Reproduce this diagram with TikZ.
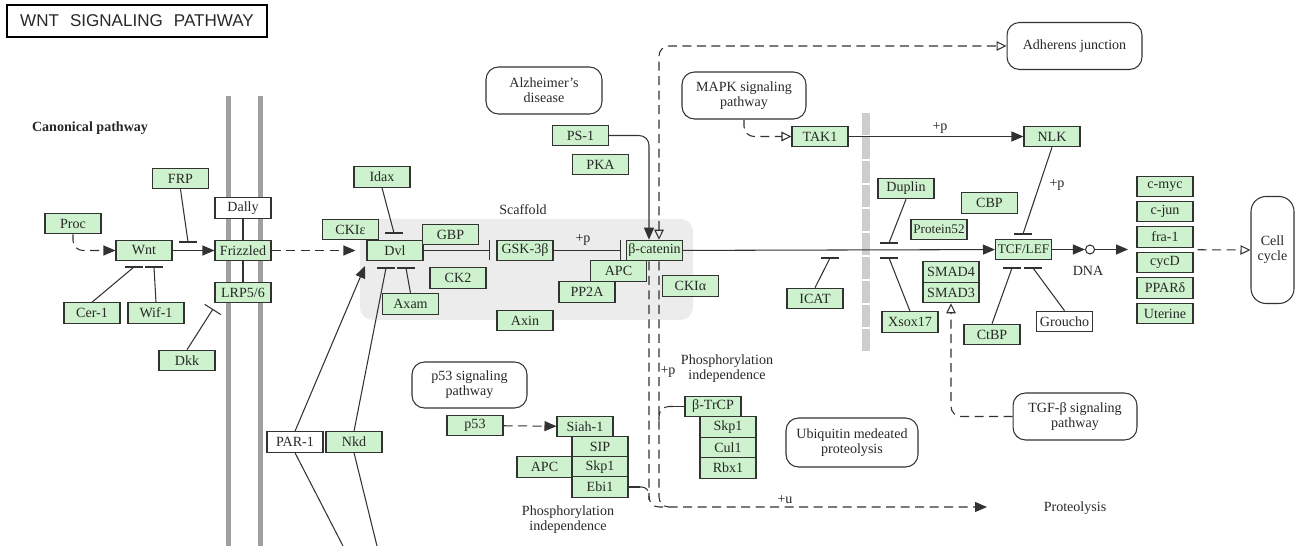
\documentclass[tikz,border=0pt]{standalone}
\usepackage{fontspec}
\setmainfont{Liberation Serif}
\newfontfamily\titlefont{Liberation Sans}
\usetikzlibrary{arrows.meta,calc}
\definecolor{kgreen}{RGB}{205,242,205}
\definecolor{kline}{RGB}{50,50,50}
\definecolor{ktext}{RGB}{40,40,40}
\definecolor{kmem}{RGB}{160,160,160}
\definecolor{kscaf}{RGB}{236,236,236}
\definecolor{kbarc}{RGB}{205,205,205}
\tikzset{
  kA/.tip={Triangle[length=0.24cm,width=0.2cm]},
  kO/.tip={Triangle[open,length=0.2cm,width=0.19cm]}
}
\newcommand\kbar[1]{\draw[lnk] ($(#1)+(-9,0)$) -- ($(#1)+(9,0)$);}
\begin{document}
\begin{tikzpicture}[x=0.02cm,y=-0.02cm,
  font=\fontsize{8}{8}\selectfont, text=ktext,
  gene/.style={draw=kline, line width=0.6pt, fill=kgreen, minimum width=1.12cm, minimum height=0.41cm, inner sep=0pt},
  wgene/.style={gene, fill=white},
  mapbox/.style={draw=kline, line width=0.6pt, rounded corners=0.25cm, align=center, inner sep=0pt, font=\fontsize{8}{8.5}\selectfont},
  lnk/.style={draw=kline, line width=0.6pt},
  act/.style={lnk, -kA},
  dsh/.style={lnk, dash pattern=on 0.18cm off 0.11cm},
  lbl/.style={inner sep=0pt, align=center, font=\fontsize{8}{8.5}\selectfont}
]
\useasboundingbox (0,0) rectangle (1297,546);
% backgrounds
\fill[kscaf, rounded corners=0.25cm] (360,219) rectangle (693,320);
\draw[kmem, line width=0.1cm] (228,96) -- (228,546);
\draw[kmem, line width=0.1cm] (260,96) -- (260,546);
\draw[kbarc, line width=0.16cm, dash pattern=on 0.44cm off 0.04cm] (866,113) -- (866,352);

% title and labels
\node[draw=black, line width=1.5pt, minimum width=5.2cm, minimum height=0.64cm, inner sep=0pt, font=\titlefont\fontsize{9.7}{10}\selectfont] (title) at (137,21) {WNT\hspace{0.65em}SIGNALING\hspace{0.65em}PATHWAY};
\node[lbl, font=\bfseries\fontsize{8}{8}\selectfont] (canon) at (90,128) {Canonical pathway};
\node[lbl] (scaf) at (523,210) {Scaffold};
\node[lbl] (dnal) at (1088,271) {DNA};
\node[lbl] (prot) at (1075,508) {Proteolysis};
\node[lbl] (pu) at (785,500) {+u};
\node[lbl] (phos1) at (727,369) {Phosphorylation\\independence};
\node[lbl] (phos2) at (568,520) {Phosphorylation\\independence};
\node[lbl] (p1) at (583,240) {+p};
\node[lbl] (p2) at (940,128) {+p};
\node[lbl] (p3) at (1057,185) {+p};
\node[lbl] (p4) at (668,372) {+p};

% map boxes
\node[mapbox, minimum width=2.32cm, minimum height=0.94cm] (alz) at (544,90.5) {Alzheimer’s\\disease};
\node[mapbox, minimum width=2.3cm, minimum height=0.92cm] (p53sig) at (469.5,385) {p53 signaling\\pathway};
\node[mapbox, minimum width=2.64cm, minimum height=0.98cm] (ubq) at (852,442.5) {Ubiquitin medeated\\proteolysis};
\node[mapbox, minimum width=2.48cm, minimum height=0.94cm] (tgf) at (1075,416.5) {TGF-β signaling\\pathway};
\node[mapbox, minimum width=2.48cm, minimum height=0.94cm] (mapk) at (744,95.5) {MAPK signaling\\pathway};
\node[mapbox, minimum width=2.7cm, minimum height=0.94cm] (adh) at (1074.5,46) {Adherens junction};
\node[mapbox, rounded corners=0.3cm, minimum width=0.86cm, minimum height=2.14cm] (cell) at (1272.5,250) {Cell\\cycle};

% genes
\node[gene] (frp) at (180.5,178.5) {FRP};
\node[wgene] (dally) at (243,208) {Dally};
\node[gene] (proc) at (73,223.5) {Proc};
\node[gene] (wnt) at (144,250.5) {Wnt};
\node[gene] (fz) at (243,250.5) {Frizzled};
\node[gene] (lrp) at (243,292.5) {LRP5/6};
\node[gene] (cer) at (92,313) {Cer-1};
\node[gene] (wif) at (156,313) {Wif-1};
\node[gene] (dkk) at (187,360.5) {Dkk};
\node[gene] (idax) at (382,177) {Idax};
\node[gene] (ckie) at (350.5,229.5) {CKIε};
\node[gene] (dvl) at (395,250.5) {Dvl};
\node[gene] (gbp) at (450.5,234.5) {GBP};
\node[gene] (gsk) at (525,250.5) {GSK-3β};
\node[gene] (bcat) at (654.5,250.5) {β-catenin};
\node[gene] (apc) at (618.5,271) {APC};
\node[gene] (pp2a) at (587,292) {PP2A};
\node[gene] (ckia) at (690.5,286) {CKIα};
\node[gene] (ck2) at (458,278) {CK2};
\node[gene] (axam) at (410.5,304) {Axam};
\node[gene] (axin) at (525,320.5) {Axin};
\node[gene] (ps1) at (580.5,135.5) {PS-1};
\node[gene] (pka) at (600.5,164.5) {PKA};
\node[wgene] (par) at (295,442) {PAR-1};
\node[gene] (nkd) at (354,442) {Nkd};
\node[gene] (p53) at (475,425.5) {p53};
\node[gene] (siah) at (585,426.5) {Siah-1};
\node[gene] (sip) at (600,447) {SIP};
\node[gene] (skpa) at (600,467) {Skp1};
\node[gene] (ebi) at (600,487) {Ebi1};
\node[gene, minimum width=1.1cm] (apcb) at (544.5,467) {APC};
\node[gene] (btrcp) at (713,406.5) {β-TrCP};
\node[gene] (skpb) at (728,427) {Skp1};
\node[gene] (cul) at (728,447.5) {Cul1};
\node[gene] (rbx) at (728,468) {Rbx1};
\node[gene] (tak1) at (820,136.5) {TAK1};
\node[gene] (nlk) at (1052,136.5) {NLK};
\node[gene] (duplin) at (906,188.5) {Duplin};
\node[gene, font=\fontsize{7.5}{8}\selectfont] (prot52) at (939,229.5) {Protein52};
\node[gene] (cbp) at (989.5,203) {CBP};
\node[gene] (icat) at (815,298.5) {ICAT};
\node[gene] (smad4) at (951,272) {SMAD4};
\node[gene] (smad3) at (951,292.5) {SMAD3};
\node[gene] (xsox) at (910,322) {Xsox17};
\node[gene] (ctbp) at (992,334.5) {CtBP};
\node[gene, font=\fontsize{7.5}{8}\selectfont] (tcf) at (1023.5,249.5) {TCF/LEF};
\node[wgene] (groucho) at (1064.5,321.5) {Groucho};
\node[draw=kline, line width=0.6pt, circle, minimum size=0.18cm, inner sep=0pt] (dna) at (1090,249.5) {};
\node[gene] (cmyc) at (1165,186.5) {c-myc};
\node[gene] (cjun) at (1165,211.5) {c-jun};
\node[gene] (fra) at (1165,237) {fra-1};
\node[gene] (cycd) at (1165,262.5) {cycD};
\node[gene] (ppar) at (1165,288) {PPARδ};
\node[gene] (uter) at (1165,313.5) {Uterine};

% coordinates for free ends
\coordinate (frpT) at (188,242);
\coordinate (cerT) at (134,267);
\coordinate (wifT) at (154,267);
\coordinate (dkkT) at (213,309);
\coordinate (idaxT) at (394,233);
\coordinate (nkdT) at (386,268);
\coordinate (axamT) at (406,268);
\coordinate (parT) at (365,266);
\coordinate (dvlT) at (490,250.5);
\coordinate (gskT) at (621,250.5);
\coordinate (icatT) at (830,258);
\coordinate (dupT) at (889,243);
\coordinate (xsoxT) at (889,258);
\coordinate (nlkT) at (1023,234);
\coordinate (ctbpT) at (1012,268);
\coordinate (grT) at (1033,268);
\coordinate (parB) at (343,546);
\coordinate (nkdB) at (377,546);
\coordinate (protT) at (987,507);
\coordinate (geneIn) at (1128,249.5);
\coordinate (trcJ) at (673,406.5);
\coordinate (ebiJ) at (640,487);

% connectors, left part
\draw[dsh, -kA, rounded corners=0.2cm] (proc.south) |- (wnt.west);
\draw[act] (wnt) -- (fz);
\draw[lnk] (frp.south) -- (frpT); \kbar{frpT}
\draw[lnk] (cer.north) -- (cerT); \kbar{cerT}
\draw[lnk] (wif.north) -- (wifT); \kbar{wifT}
\draw[lnk] (dally) -- (fz);
\draw[lnk] (fz) -- (lrp);
\draw[lnk, -{Bar[width=0.38cm]}] (dkk.north) -- (dkkT);
\draw[dsh, -kA, shorten >=0.22cm] (fz) -- (dvl);
\draw[lnk] (idax.south) -- (idaxT); \kbar{idaxT}
\draw[lnk, -{Bar[width=0.4cm]}] (dvl.east) -- (dvlT);
\draw[lnk, -{Bar[width=0.4cm]}] (gsk.east) -- (gskT);
\draw[act] (par.north) -- (parT);
\draw[lnk] (nkd.north) -- (nkdT); \kbar{nkdT}
\draw[lnk] (axam.north) -- (axamT); \kbar{axamT}
\draw[lnk] (par.south) -- (parB);
\draw[lnk] (nkd.south) -- (nkdB);

% beta-catenin region
\draw[act, rounded corners=0.2cm] (ps1.east) -| ($(bcat.north)+(-5.5,0)$);
\draw[dsh, kO-kO, rounded corners=0.2cm] ($(bcat.north)+(4.5,0)$) |- (adh.west);
\draw[dsh, -kA, rounded corners=0.2cm] ($(bcat.south)+(-5.5,0)$) |- (protT);
\draw[dsh, rounded corners=0.2cm] ($(bcat.south)+(4.5,0)$) |- (669,507);
\draw[lnk] (btrcp.west) -- (trcJ);
\draw[dsh, rounded corners=0.2cm] (trcJ) -| (659,426);
\draw[lnk] (ebi.east) -- (ebiJ);
\draw[dsh, rounded corners=0.15cm] (ebiJ) -| (649,500);
\draw[dsh, -kA] (p53) -- (siah);

% right part
\draw[dsh, -kO, rounded corners=0.2cm] (mapk.south) |- (tak1.west);
\draw[act] (tak1) -- (nlk);
\draw[act] (bcat) -- (tcf);
\draw[lnk] (duplin.south) -- (dupT); \kbar{dupT}
\draw[lnk] (xsox.north) -- (xsoxT); \kbar{xsoxT}
\draw[lnk] (icat.north) -- (icatT); \kbar{icatT}
\draw[lnk] (nlk.south) -- (nlkT); \kbar{nlkT}
\draw[lnk] (ctbp.north) -- (ctbpT); \kbar{ctbpT}
\draw[lnk] (groucho.north) -- (grT); \kbar{grT}
\draw[act] (tcf) -- (dna);
\draw[act] (dna) -- (geneIn);
\draw[dsh, -kO] ($(fra.south east)!0.5!(cycd.north east)+(4,0)$) -- (cell.west);
\draw[dsh, -kO, rounded corners=0.2cm] (tgf.west) -| (smad3.south);
\end{tikzpicture}
\end{document}
